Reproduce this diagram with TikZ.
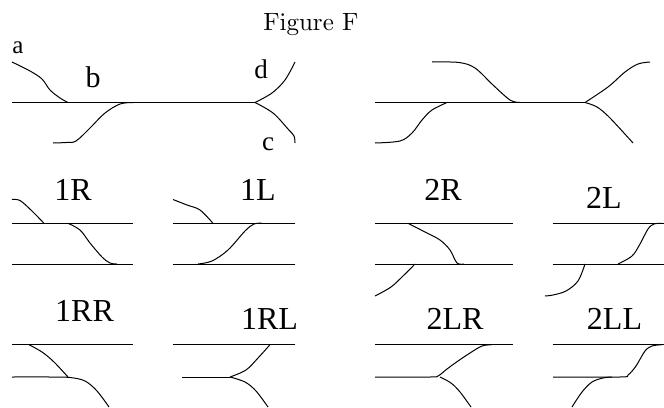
\documentclass[tikz,border=0pt]{standalone}
\usepackage{fontspec}
\newfontfamily\timesf{Liberation Serif}
\font\figf=cmr10 at 25pt
\tikzset{
  x=1pt,y=-1pt,
  rail/.style={line width=1pt,black},
  crv/.style={line width=1pt,black,smooth,tension=0.55},
  lab/.style={anchor=base,inner sep=0pt,font=\timesf\fontsize{32}{32}\selectfont},
  small/.style={anchor=base,inner sep=0pt,font=\timesf\fontsize{27}{27}\selectfont},
  ttl/.style={anchor=base,inner sep=0pt,font=\figf}
}
\begin{document}
\begin{tikzpicture}
\useasboundingbox (0,0) rectangle (664,407);
% labels
\node[ttl] (title) at (311,30) {Figure F};
\node[small,font=\timesf\fontsize{25}{25}\selectfont] (la) at (18,53) {a};
\node[lab,font=\timesf\fontsize{30}{30}\selectfont] (lb) at (93,87) {b};
\node[small] (ld) at (261,78) {d};
\node[small] (lc) at (268,150) {c};
\node[lab] (l1R) at (73,200.7) {1R};
\node[lab] (l1L) at (258,200.7) {1L};
\node[lab] (l1RR) at (84.5,321.7) {1RR};
\node[lab] (l1RL) at (269.5,329) {1RL};
\node[lab] (l2R) at (443,200.7) {2R};
\node[lab] (l2L) at (604,208) {2L};
\node[lab] (l2LR) at (455,329) {2LR};
\node[lab] (l2LL) at (614.5,329) {2LL};
% top left
\draw[rail] (12,102.5) -- (255,102.5);
\draw[rail] plot[crv] coordinates {(12,62) (30,71) (42,79) (50,90) (60,98) (68,102.5)};
\draw[rail] plot[crv] coordinates {(53,143) (66,142.5) (76,141) (90,128) (105,113) (120,104) (133,102.5)};
\draw[rail] plot[crv] coordinates {(255,102.5) (272,93) (285,80) (295,62)};
\draw[rail] plot[crv] coordinates {(255,102.5) (273,113) (288,129) (294,136) (295,143)};
% top right
\draw[rail] (375,102.5) -- (585,102.5);
\draw[rail] plot[crv] coordinates {(432,62) (459,62.5) (475,68) (493,85) (510,100) (520,102.5)};
\draw[rail] plot[crv] coordinates {(375,143) (400,141) (412,133) (422,120) (432,110) (447,102.5)};
\draw[rail] plot[crv] coordinates {(585,102.5) (608,87) (625,72) (638,64) (650,62)};
\draw[rail] plot[crv] coordinates {(585,102.5) (597,107) (610,118) (633,143)};
% 1R
\draw[rail] (12,223.3) -- (133,223.3);
\draw[rail] (12,264) -- (133,264);
\draw[rail] plot[crv] coordinates {(12,199.5) (20,200.5) (32,211) (44,223.3)};
\draw[rail] plot[crv] coordinates {(68,223.3) (80,230) (90,243) (102,257) (110,263) (117,264)};
% 1L
\draw[rail] (173,223.3) -- (295,223.3);
\draw[rail] (173,264) -- (295,264);
\draw[rail] plot[crv] coordinates {(173,199.5) (187,205) (200,210) (213,223.3)};
\draw[rail] plot[crv] coordinates {(198,264) (212,261) (228,250) (245,231) (254,224) (262,223.3)};
% 2R
\draw[rail] (375,223.3) -- (513,223.3);
\draw[rail] (375,264) -- (513,264);
\draw[rail] plot[crv] coordinates {(408,223.3) (425,232) (440,240) (450,250) (457,263) (464,264)};
\draw[rail] plot[crv] coordinates {(375,296) (391,287) (403,276) (415,264)};
% 2L
\draw[rail] (553,223.3) -- (664,223.3);
\draw[rail] (553,264) -- (664,264);
\draw[rail] plot[crv] coordinates {(618,264) (632,256) (640,244) (648,229) (654,224) (662,223.3)};
\draw[rail] plot[crv] coordinates {(585,264) (578,281) (566,291) (553,295) (545,296)};
% 1RR
\draw[rail] (12,344.7) -- (133,344.7);
\draw[rail] plot[crv] coordinates {(29,344.7) (42,352) (54,362) (68,377)};
\draw[rail] plot[crv] coordinates {(12,377) (50,377) (70,377.5) (85,381) (97,391) (109,407)};
% 1RL
\draw[rail] (173,344.7) -- (295,344.7);
\draw[rail] (182,377) -- (230,377);
\draw[rail] plot[crv] coordinates {(230,377) (246,370) (258,358) (270,344.7)};
\draw[rail] plot[crv] coordinates {(230,377) (245,382) (256,391) (268,407)};
% 2LR
\draw[rail] (375,344.7) -- (513,344.7);
\draw[rail] plot[crv] coordinates {(375,377) (430,377) (438,376) (447,369) (458,361) (470,353) (482,346) (492,344.7)};
\draw[rail] plot[crv] coordinates {(440,377) (451,383) (460,392) (471,407)};
% 2LL
\draw[rail] (553,344.7) -- (664,344.7);
\draw[rail] plot[crv] coordinates {(553,377) (620,377) (628,375) (636,366) (645,351) (652,346) (662,344.7)};
\draw[rail] plot[crv] coordinates {(572,407) (582,392) (592,382) (603,378) (612,377)};
\end{tikzpicture}
\end{document}
